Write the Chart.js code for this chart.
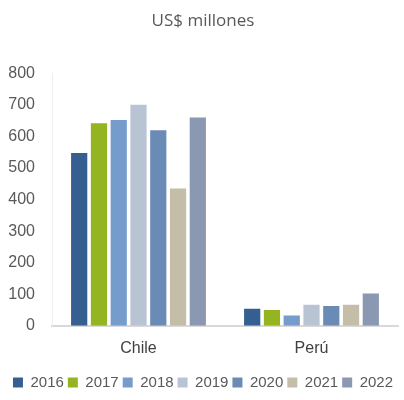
<!DOCTYPE html>
<html>
<head>
<meta charset="utf-8">
<script src="https://cdn.jsdelivr.net/npm/chart.js@4"></script>
<style>
  html, body { margin: 0; padding: 0; background: #fff; }
  #wrap { width: 404px; height: 400px; }
</style>
</head>
<body>
<div id="wrap"><canvas id="chart" width="404" height="400"></canvas></div>
<script>
// Categories and series
const countries = ['Chile', 'Perú'];
const years = ['2016', '2017', '2018', '2019', '2020', '2021', '2022'];
const values2016 = [548, 54];
const values2017 = [642, 50];
const values2018 = [652, 33];
const values2019 = [701, 67];
const values2020 = [620, 63];
const values2021 = [435, 67];
const values2022 = [660, 102];
const yTicks = [0, 100, 200, 300, 400, 500, 600, 700, 800];

const seriesValues = [values2016, values2017, values2018, values2019, values2020, values2021, values2022];
const colors = ['#355f91', '#95b421', '#769ccc', '#b8c4d4', '#6a8bb5', '#c4bea9', '#8a98b2'];

document.addEventListener("DOMContentLoaded", function () {
    const ctx = document.getElementById('chart').getContext('2d');
    new Chart(ctx, {
        type: 'bar',
        data: {
            labels: countries,
            datasets: years.map(function (y, i) {
                return {
                    label: y,
                    data: seriesValues[i],
                    backgroundColor: colors[i],
                    borderWidth: 0,
                    categoryPercentage: 0.8,
                    barPercentage: 0.82
                };
            })
        },
        options: {
            responsive: false,
            animation: false,
            layout: { padding: { left: 8, right: 6, top: 0, bottom: 0 } },
            plugins: {
                title: {
                    display: true,
                    text: 'US$ millones',
                    color: '#595959',
                    font: { family: 'Open Sans', size: 17, weight: 'normal' },
                    padding: { top: 11, bottom: 42 }
                },
                legend: {
                    display: true,
                    position: 'bottom',
                    labels: {
                        color: '#595959',
                        boxWidth: 10,
                        boxHeight: 10,
                        padding: 4,
                        font: { family: 'Liberation Sans', size: 15 }
                    }
                },
                tooltip: { enabled: false }
            },
            scales: {
                x: {
                    grid: { display: false, drawTicks: false },
                    border: { color: '#d9d9d9', width: 2 },
                    ticks: {
                        color: '#404040',
                        padding: 13,
                        font: { family: 'Liberation Sans', size: 16 }
                    }
                },
                y: {
                    min: 0,
                    max: 800,
                    afterBuildTicks: function (axis) {
                        axis.ticks = yTicks.map(function (v) { return { value: v }; });
                    },
                    afterFit: function (axis) {
                        axis.width = 44;
                    },
                    grid: { display: false, drawTicks: false },
                    border: { color: '#efefef', width: 1 },
                    ticks: {
                        color: '#595959',
                        padding: 17,
                        font: { family: 'Liberation Sans', size: 16 }
                    }
                }
            }
        }
    });
});
</script>
</body>
</html>
